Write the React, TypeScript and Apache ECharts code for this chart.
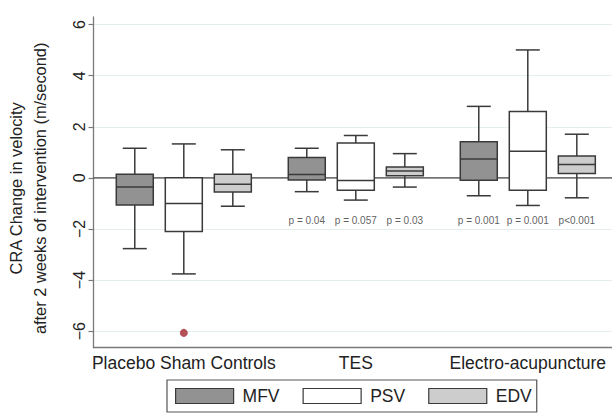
import React, { useEffect, useRef } from 'react';
import * as echarts from 'echarts';

const groups = ['Placebo Sham Controls', 'TES', 'Electro-acupuncture'];
const measures = ['MFV', 'PSV', 'EDV'];
// [min, Q1, median, Q3, max] for each group
const mfvBoxes = [
  [-2.77, -1.06, -0.36, 0.14, 1.16],
  [-0.54, -0.08, 0.13, 0.8, 1.16],
  [-0.7, -0.09, 0.74, 1.41, 2.8],
];
const psvBoxes = [
  [-3.76, -2.1, -1.0, 0.01, 1.33],
  [-0.87, -0.48, -0.1, 1.37, 1.66],
  [-1.08, -0.48, 1.04, 2.6, 5.01],
];
const edvBoxes = [
  [-1.11, -0.55, -0.25, 0.14, 1.1],
  [-0.36, 0.08, 0.27, 0.43, 0.95],
  [-0.78, 0.17, 0.52, 0.86, 1.71],
];
const mfvP = ['', 'p = 0.04', 'p = 0.001'];
const psvP = ['', 'p = 0.057', 'p = 0.001'];
const edvP = ['', 'p = 0.03', 'p<0.001'];
const pLabelLevel = -1.65;
const outlierGroup = [0];
const outlierMeasure = [1];
const outlierValue = [-6.07];
const yTicks = [-6, -4, -2, 0, 2, 4, 6];

const FONT = '"Liberation Sans", Arial, Helvetica, sans-serif';
const fills = ['#929292', '#ffffff', '#cdcdcd'];
const STROKE = '#3a3a3a';
const boxSets = [mfvBoxes, psvBoxes, edvBoxes];
const pSets = [mfvP, psvP, edvP];

const pos = (g: number, m: number) => g + 1 + (m - 1) * 0.285;

function makeBoxRender(fill: string) {
  return (params: any, api: any) => {
    const x = api.value(0);
    const c = (v: number) => api.coord([x, v]);
    const [xc, yMin] = c(api.value(1));
    const yQ1 = c(api.value(2))[1];
    const yMed = c(api.value(3))[1];
    const yQ3 = c(api.value(4))[1];
    const yMax = c(api.value(5))[1];
    const bw = 37;
    const cw = 24;
    const ls = { stroke: STROKE, lineWidth: 1.5, fill: null };
    return {
      type: 'group',
      children: [
        { type: 'line', shape: { x1: xc, y1: yMax, x2: xc, y2: yQ3 }, style: ls },
        { type: 'line', shape: { x1: xc, y1: yQ1, x2: xc, y2: yMin }, style: ls },
        { type: 'line', shape: { x1: xc - cw / 2, y1: yMax, x2: xc + cw / 2, y2: yMax }, style: ls },
        { type: 'line', shape: { x1: xc - cw / 2, y1: yMin, x2: xc + cw / 2, y2: yMin }, style: ls },
        {
          type: 'rect',
          shape: { x: xc - bw / 2, y: yQ3, width: bw, height: yQ1 - yQ3 },
          style: { fill, stroke: STROKE, lineWidth: 1.5 },
        },
        { type: 'line', shape: { x1: xc - bw / 2, y1: yMed, x2: xc + bw / 2, y2: yMed }, style: ls },
      ],
    };
  };
}

export default function App() {
  const ref = useRef<HTMLDivElement>(null);
  useEffect(() => {
    document.body.style.margin = '0';
    if (!ref.current) return;
    const chart = echarts.init(ref.current, null, { renderer: 'svg' });

    const boxSeries = measures.map((m, mi) => ({
      type: 'custom',
      name: m,
      z: 3,
      renderItem: makeBoxRender(fills[mi]),
      encode: { x: 0, y: [1, 2, 3, 4, 5] },
      data: boxSets[mi].map((b, g) => [pos(g, mi), ...b]),
    }));

    const pData: any[] = [];
    pSets.forEach((arr, mi) =>
      arr.forEach((t, g) => {
        if (t) pData.push({ name: t, value: [pos(g, mi), pLabelLevel] });
      })
    );

    const option: any = {
      animation: false,
      textStyle: { fontFamily: FONT },
      grid: {
        left: 93.5,
        right: -6.1,
        top: 17,
        bottom: 65.3,
        containLabel: false,
        outerBoundsMode: 'none',
      },
      xAxis: {
        type: 'value',
        min: 0.475,
        max: 3.525,
        axisLine: { show: true, onZero: false, lineStyle: { color: '#7a7a7a', width: 1.3 } },
        axisTick: { show: false },
        splitLine: { show: false },
        axisLabel: {
          customValues: [1, 2, 3],
          formatter: (v: number) => groups[Math.round(v) - 1],
          fontSize: 17.5,
          margin: 6,
          color: '#222',
          fontFamily: FONT,
        },
      },
      yAxis: {
        type: 'value',
        min: -6.65,
        max: 6.3,
        axisLine: { show: true, onZero: false, lineStyle: { color: '#7a7a7a', width: 1.3 } },
        axisTick: { show: true, length: 5, customValues: yTicks, lineStyle: { color: '#7a7a7a', width: 1.2 } },
        axisLabel: {
          customValues: yTicks,
          rotate: 90,
          margin: 6,
          fontSize: 16,
          color: '#222',
          fontFamily: FONT,
          formatter: (v: number) => (v < 0 ? '\u2212' + Math.abs(v) : String(v)),
        },
        splitLine: { show: true, lineStyle: { color: '#e4eeee', width: 1 } },
        name: 'CRA Change in velocity\nafter 2 weeks of intervention (m/second)',
        nameLocation: 'middle',
        nameRotate: 90,
        nameGap: 42,
        nameTextStyle: {
          fontSize: 16.4,
          lineHeight: 24,
          color: '#222',
          fontFamily: FONT,
          padding: [0, 12, 0, 0],
        },
      },
      legend: {
        data: measures.map((m, i) => ({
          name: m,
          icon: 'rect',
          itemStyle: { color: fills[i], borderColor: STROKE, borderWidth: 1.2 },
        })),
        left: 167,
        top: 380,
        itemWidth: 58,
        itemHeight: 15,
        itemGap: 23,
        borderColor: '#555',
        borderWidth: 1.2,
        padding: [7, 5, 7, 8],
        textStyle: { fontSize: 17.5, lineHeight: 18, color: '#222', fontFamily: FONT, padding: [0, 0, 0, 4] },
      },
      series: [
        {
          type: 'custom',
          name: 'zero',
          z: 1,
          silent: true,
          renderItem: (params: any, api: any) => {
            const cs = params.coordSys;
            const y = api.coord([1, api.value(0)])[1];
            return {
              type: 'line',
              shape: { x1: cs.x, y1: y, x2: cs.x + cs.width, y2: y },
              style: { stroke: '#444', lineWidth: 1.3 },
            };
          },
          encode: { y: 0 },
          data: [[0]],
        },
        ...boxSeries,
        {
          type: 'scatter',
          name: 'outlier',
          z: 4,
          symbolSize: 8,
          itemStyle: { color: '#a3262e' },
          data: outlierValue.map((v, i) => [pos(outlierGroup[i], outlierMeasure[i]), v]),
        },
        {
          type: 'scatter',
          name: 'p',
          z: 4,
          symbolSize: 0,
          silent: true,
          label: {
            show: true,
            position: 'inside',
            formatter: '{b}',
            fontSize: 10,
            color: '#333',
            fontFamily: FONT,
          },
          data: pData,
        },
      ],
    };
    chart.setOption(option);
    return () => chart.dispose();
  }, []);
  return <div ref={ref} style={{ width: 612, height: 413 }} />;
}
